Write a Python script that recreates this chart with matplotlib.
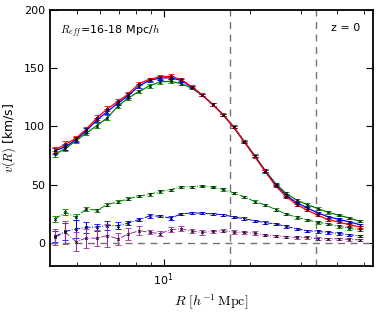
import numpy as np
import matplotlib
matplotlib.use('Agg')
import matplotlib.pyplot as plt

plt.rcParams['mathtext.fontset'] = 'cm'
plt.rcParams['font.size'] = 8

# radii [h^-1 Mpc]
R = [4.18, 4.55, 4.95, 5.38, 5.86, 6.37, 6.93, 7.54, 8.21, 8.93,
     9.71, 10.57, 11.50, 12.51, 13.61, 14.81, 16.11, 17.53, 19.07, 20.75,
     22.58, 24.56, 26.73, 29.08, 31.64, 34.42, 37.45, 40.75, 44.33, 48.23]

# total velocity profiles (solid)
v_red = [79.5, 84.8, 89.8, 97.8, 107.4, 115.2, 121.5, 128.0, 136.8, 140.5,
         142.6, 143.1, 140.3, 134.2, 127.3, 118.9, 110.0, 99.3, 86.9, 74.2,
         61.2, 48.8, 39.6, 32.9, 28.0, 23.7, 19.9, 17.9, 15.6, 13.6]
v_blue = [79.0, 82.5, 88.8, 96.4, 105.5, 112.8, 120.0, 126.5, 134.8, 139.5,
          141.5, 141.8, 139.5, 133.8, 127.1, 118.9, 110.0, 99.3, 86.9, 74.5,
          61.6, 49.6, 40.7, 34.4, 30.0, 25.7, 22.4, 20.2, 18.0, 15.6]
v_green = [76.0, 81.0, 87.7, 94.4, 100.7, 107.4, 117.5, 124.4, 130.1, 134.8,
           138.2, 138.8, 136.8, 133.0, 126.8, 118.9, 110.2, 99.8, 87.4, 75.0,
           62.2, 50.8, 42.4, 36.6, 32.9, 29.4, 26.2, 23.7, 21.4, 18.5]
e_red = [2.5, 2.5, 2.0, 2.0, 2.0, 2.0, 1.8, 1.8, 1.5, 1.5,
         1.5, 1.5, 1.2, 1.2, 1.0, 1.0, 1.0, 1.0, 1.0, 1.0,
         1.0, 1.0, 1.0, 1.0, 1.0, 1.0, 1.0, 1.0, 1.0, 1.0]

# components (dash-dot)
c_green = [20.5, 26.2, 21.9, 29.2, 28.0, 32.9, 35.2, 37.8, 40.1, 41.6,
           44.2, 45.6, 48.2, 48.2, 48.8, 47.9, 45.9, 43.0, 39.6, 35.5,
           32.5, 28.6, 24.8, 21.9, 19.9, 17.6, 16.2, 14.1, 12.4, 11.3]
ce_green = [2.5, 2.5, 2.5, 2.0, 1.5, 1.5, 1.2, 1.2, 1.0, 1.0,
            1.0, 1.0, 1.0, 1.0, 1.0, 1.0, 1.0, 1.0, 1.0, 1.0,
            1.0, 1.0, 1.0, 1.0, 1.0, 1.0, 1.0, 1.0, 1.0, 1.0]
c_blue = [5.5, 9.8, 11.8, 13.3, 13.6, 14.7, 14.7, 17.0, 19.9, 23.1,
          23.0, 21.2, 24.8, 25.7, 25.5, 24.8, 24.2, 22.2, 20.8, 19.0,
          17.4, 16.2, 14.1, 12.1, 10.4, 9.8, 8.9, 8.1, 6.9, 6.1]
ce_blue = [5.0, 7.0, 8.0, 5.0, 3.0, 4.0, 3.0, 2.0, 1.5, 1.5,
           1.2, 1.5, 1.0, 1.0, 1.0, 1.0, 1.0, 1.0, 1.0, 1.0,
           1.0, 1.0, 1.0, 1.0, 1.0, 1.0, 1.0, 1.0, 1.0, 1.0]
c_purple = [4.9, 8.9, 1.1, 4.0, 4.0, 6.3, 3.5, 7.5, 10.4, 9.2,
            7.8, 11.3, 12.1, 10.1, 8.9, 9.8, 10.4, 9.2, 8.9, 8.4,
            6.6, 6.1, 5.2, 4.6, 4.6, 3.7, 3.5, 3.5, 2.9, 2.6]
ce_purple = [7.0, 10.0, 8.0, 8.0, 7.0, 10.0, 5.0, 5.0, 4.0, 2.0,
             2.0, 2.0, 2.0, 2.0, 2.0, 1.5, 1.5, 1.5, 1.5, 1.5,
             1.0, 1.0, 1.0, 1.0, 1.0, 1.0, 1.0, 1.0, 1.0, 1.0]

R_eff = 17.0
purple = '#9b2f9b'

fig = plt.figure(figsize=(3.8, 3.12), dpi=100)
ax = fig.add_axes([0.1316, 0.147, 0.85, 0.821])

def curva(y, err, col, ls, lw):
    ax.errorbar(R, y, yerr=err, color=col, ls=ls, lw=lw, capsize=2.5,
                elinewidth=0.8, capthick=0.8, marker='x', ms=1.8,
                mec='k', mfc='k', mew=0.6)

curva(v_green, e_red, 'g', '-', 0.9)
curva(v_blue, e_red, 'b', '-', 0.9)
curva(v_red, e_red, 'r', '-', 0.9)
curva(c_green, ce_green, 'g', '-.', 0.7)
curva(c_blue, ce_blue, 'b', '-.', 0.7)
curva(c_purple, ce_purple, purple, '-.', 0.7)

ax.axhline(0, color='0.45', ls='--', lw=1, dashes=(5, 4))
ax.axvline(R_eff, color='0.45', ls='--', lw=1, dashes=(5, 4))
ax.axvline(2 * R_eff, color='0.45', ls='--', lw=1, dashes=(5, 4))

ax.set_xscale('log')
ax.set_xlim(4.02, 53.6)
ax.set_ylim(-20, 200)
ax.set_yticks([0, 50, 100, 150, 200])
ax.tick_params(which='both', direction='in', top=True, right=True)
ax.tick_params(which='major', length=5)
ax.tick_params(which='minor', length=3)
for s in ax.spines.values():
    s.set_linewidth(1.3)

ax.set_xlabel(r'$R\ [h^{-1}\,\mathrm{Mpc}]$', fontsize=10)
ax.set_ylabel(r'$v(R)$ [km/s]', fontsize=9)
ax.text(0.03, 0.95, r'$R_{eff}$=16-18 Mpc/$h$', transform=ax.transAxes,
        fontsize=8, va='top')
ax.text(0.87, 0.95, 'z = 0', transform=ax.transAxes, fontsize=8, va='top')

fig.savefig('out.png', dpi=100)
